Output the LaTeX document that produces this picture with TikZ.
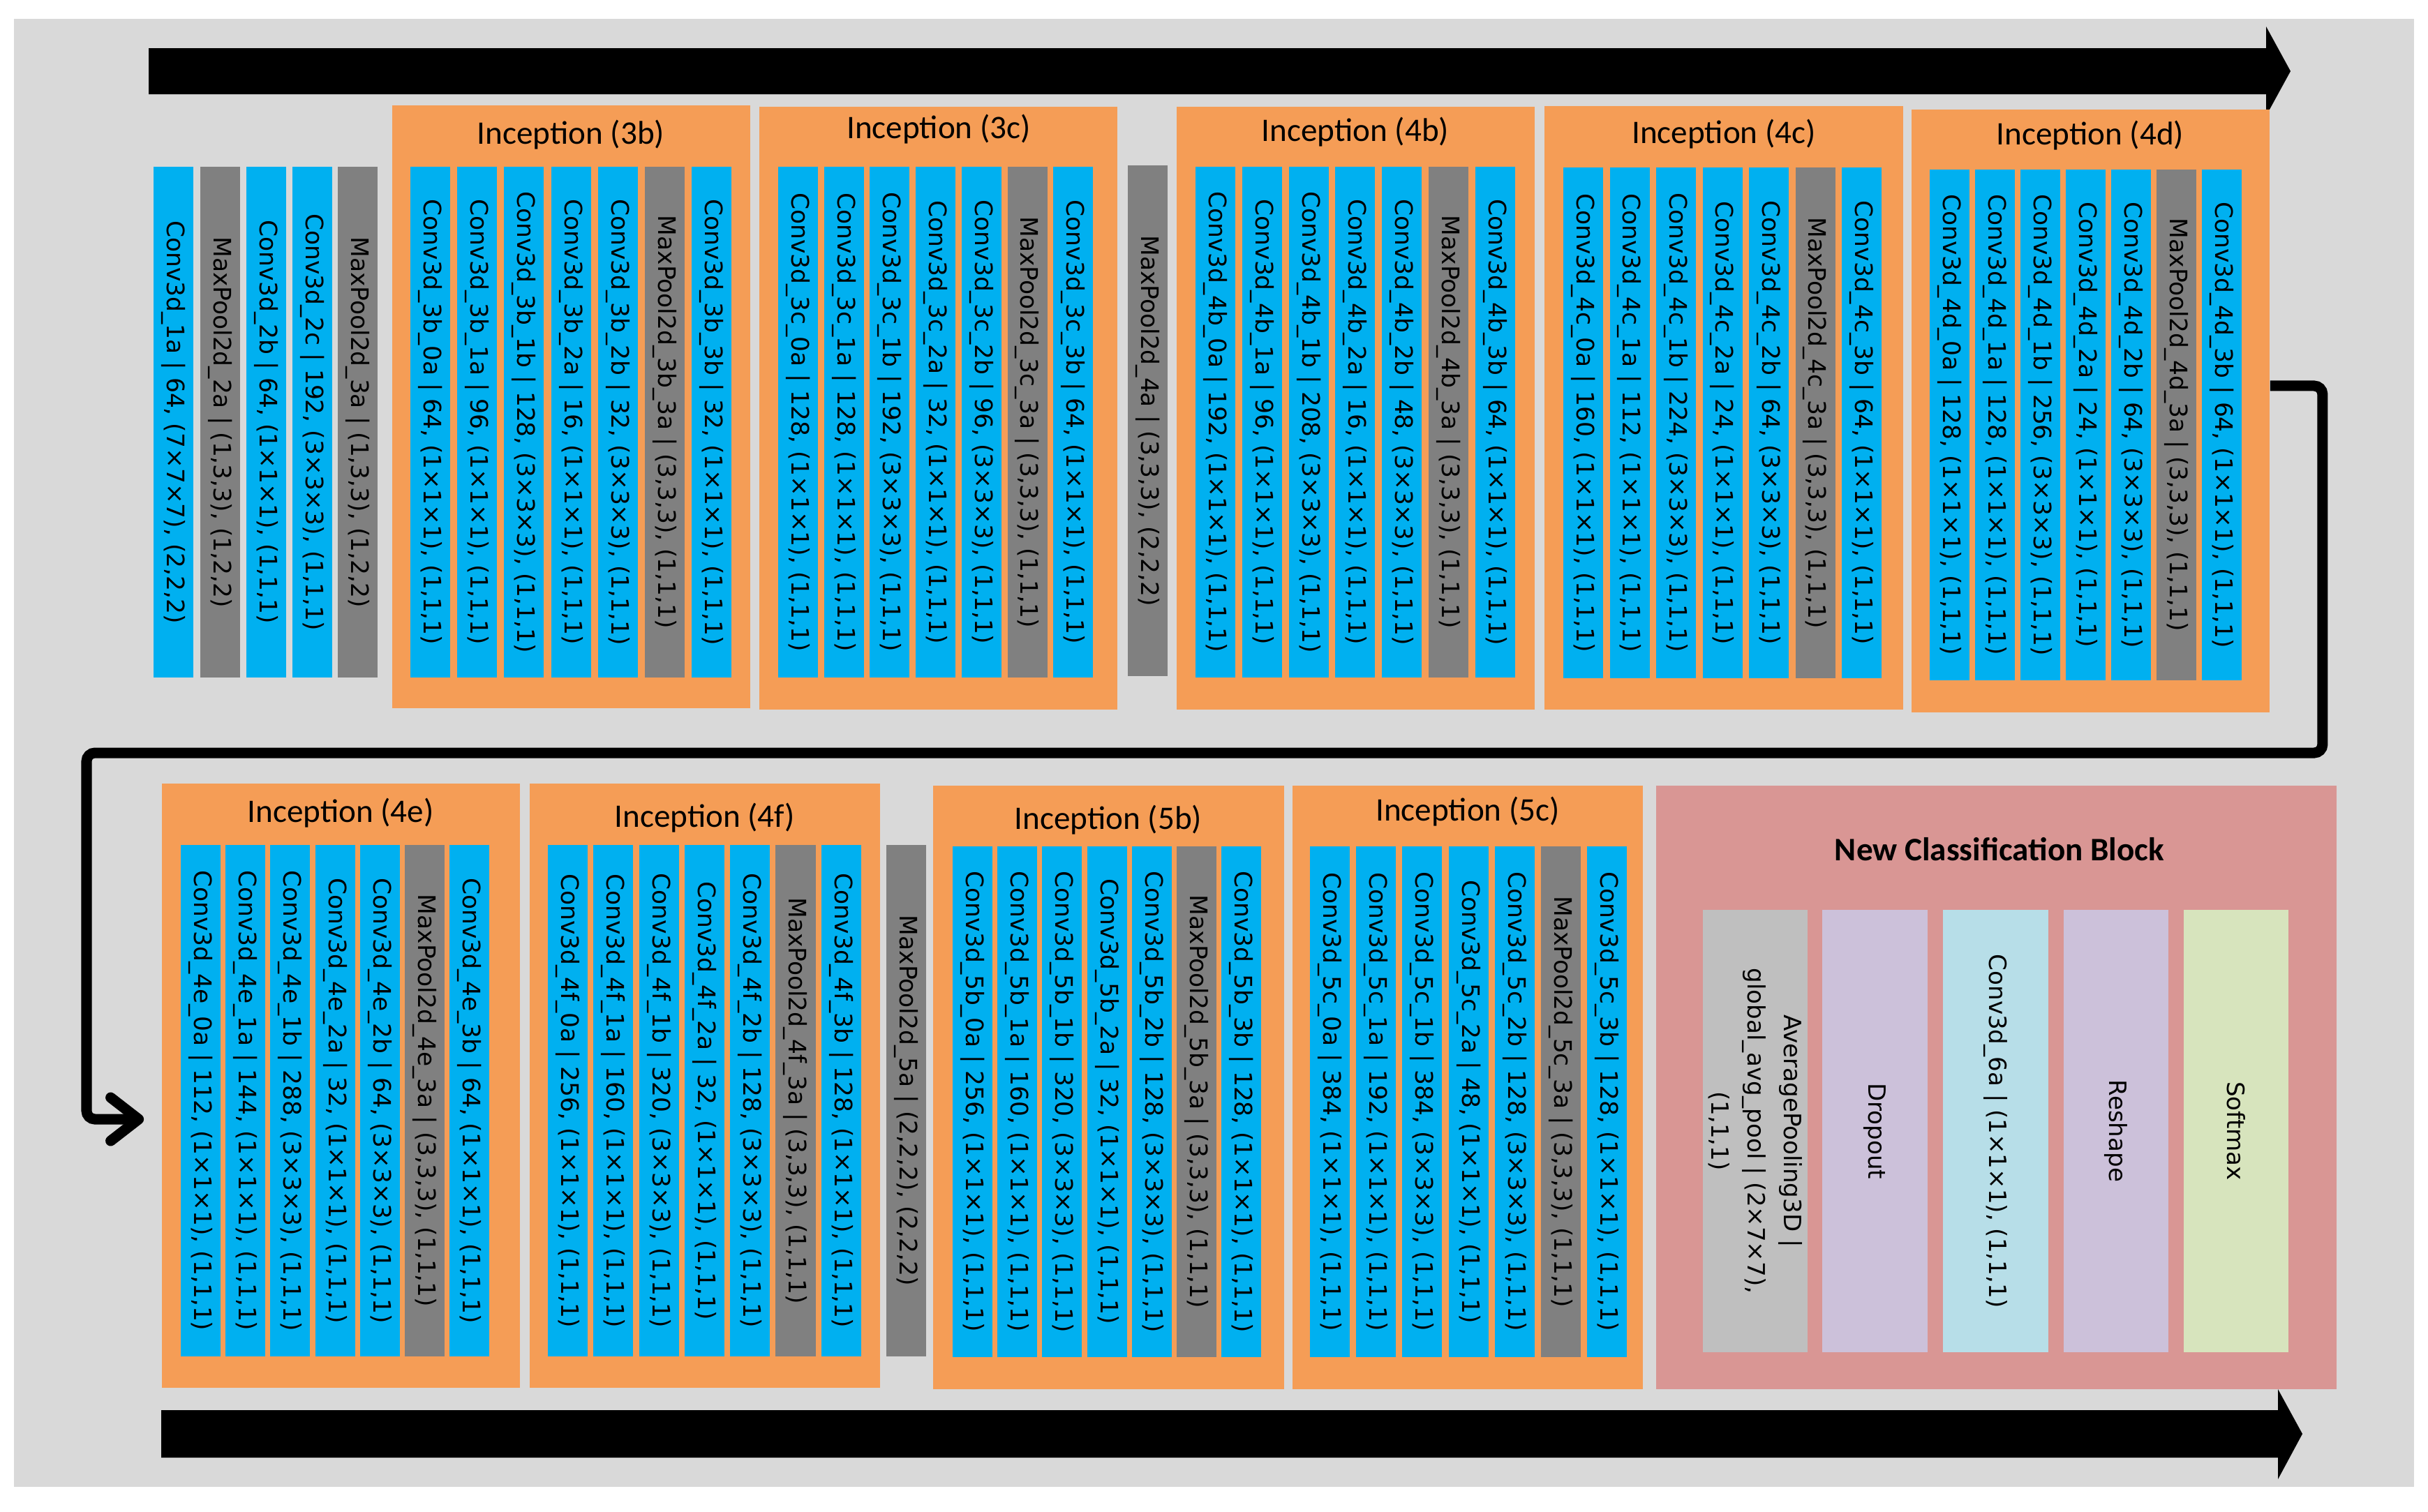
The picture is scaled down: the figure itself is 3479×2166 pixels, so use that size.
\documentclass[tikz,border=0pt]{standalone}
\usepackage{fontspec}
\usetikzlibrary{arrows.meta}
\newfontfamily\dejavu{DejaVu Sans}
\newfontfamily\carlito{Carlito}
\newcommand\lyrfont{\dejavu\fontsize{9.8pt}{11pt}\selectfont}
\newcommand\ttlfont{\carlito\fontsize{13.4pt}{16pt}\selectfont}
\newcommand\clsfont{\dejavu\fontsize{9.7pt}{14.8pt}\selectfont}
\definecolor{bggray}{HTML}{D9D9D9}
\definecolor{cblue}{HTML}{00B0F0}
\definecolor{cgray}{HTML}{808080}
\definecolor{corange}{HTML}{F59D56}
\definecolor{cpink}{HTML}{D99694}
\definecolor{cavg}{HTML}{BFBFBF}
\definecolor{clav}{HTML}{CCC1DA}
\definecolor{clblue}{HTML}{B7DEE8}
\definecolor{cgreen}{HTML}{D7E4BD}
\tikzset{
  lyr/.style={rotate=-90, minimum width=7.32cm, minimum height=0.57cm, inner sep=0pt, font=\lyrfont, text=black},
  conv/.style={lyr, fill=cblue},
  pool/.style={lyr, fill=cgray},
  inc/.style={fill=corange, inner sep=0pt, minimum width=5.13cm, minimum height=8.64cm},
  ttl/.style={font=\ttlfont, inner sep=0pt, text=black},
  cls/.style={rotate=-90, minimum width=6.34cm, minimum height=1.5cm, inner sep=0pt, font=\clsfont, align=center, text=black},
  conn/.style={line width=0.15cm, rounded corners=0.12cm},
}
\newcommand{\incset}[4]{\def\ipre{#1}\def\ix{#2}\def\ip{#3}\def\iy{#4}}
\newcommand{\incrow}[6]{%
\node[conv] (\ipre-0a) at ({\ix+28.5},\iy) {Conv3d\_\ipre\_0a | #1, (1×1×1), (1,1,1)};
\node[conv] (\ipre-1a) at ({\ix+\ip+28.5},\iy) {Conv3d\_\ipre\_1a | #2, (1×1×1), (1,1,1)};
\node[conv] (\ipre-1b) at ({\ix+2*\ip+28.5},\iy) {Conv3d\_\ipre\_1b | #3, (3×3×3), (1,1,1)};
\node[conv] (\ipre-2a) at ({\ix+3*\ip+28.5},\iy) {Conv3d\_\ipre\_2a | #4, (1×1×1), (1,1,1)};
\node[conv] (\ipre-2b) at ({\ix+4*\ip+28.5},\iy) {Conv3d\_\ipre\_2b | #5, (3×3×3), (1,1,1)};
\node[pool] (\ipre-3a) at ({\ix+5*\ip+28.5},\iy) {MaxPool2d\_\ipre\_3a | (3,3,3), (1,1,1)};
\node[conv] (\ipre-3b) at ({\ix+6*\ip+28.5},\iy) {Conv3d\_\ipre\_3b | #6, (1×1×1), (1,1,1)};
}
\begin{document}
\begin{tikzpicture}[x=0.01cm,y=-0.01cm]
\useasboundingbox (0,0) rectangle (3479,2166);
\fill[bggray] (20,27) rectangle (3459,2131);
% big flow arrows
\fill[black] (213,69) -- (3247,69) -- (3247,38) -- (3282,102) -- (3247,166) -- (3247,135) -- (213,135) -- cycle;
\fill[black] (231,2021) -- (3264,2021) -- (3264,1991) -- (3299,2055) -- (3264,2120) -- (3264,2089) -- (231,2089) -- cycle;

% stem
\node[conv] (s1a) at (248.5,605) {Conv3d\_1a | 64, (7×7×7), (2,2,2)};
\node[pool] (s2a) at (315.5,605) {MaxPool2d\_2a | (1,3,3), (1,2,2)};
\node[conv] (s2b) at (381.5,605) {Conv3d\_2b | 64, (1×1×1), (1,1,1)};
\node[conv] (s2c) at (447.5,605) {Conv3d\_2c | 192, (3×3×3), (1,1,1)};
\node[pool] (s3a) at (512.5,605) {MaxPool2d\_3a | (1,3,3), (1,2,2)};

% row 1 inception boxes
\node[inc] (i3b) at (818.5,583) {};
\node[inc] (i3c) at (1344.5,585) {};
\node[inc] (i4b) at (1942.5,585) {};
\node[inc] (i4c) at (2470,584.5) {};
\node[inc] (i4d) at (2995.5,589) {};
\node[ttl] (t3b) at (818,193) {Inception (3b)};
\node[ttl] (t3c) at (1345,185) {Inception (3c)};
\node[ttl] (t4b) at (1942,189) {Inception (4b)};
\node[ttl] (t4c) at (2470,192) {Inception (4c)};
\node[ttl] (t4d) at (2995,194) {Inception (4d)};

\incset{3b}{588}{67.2}{605}\incrow{64}{96}{128}{16}{32}{32}
\incset{3c}{1115}{65.7}{605}\incrow{128}{128}{192}{32}{96}{64}
\node[pool] (s4a) at (1644.5,603) {MaxPool2d\_4a | (3,3,3), (2,2,2)};
\incset{4b}{1713}{66.8}{605}\incrow{192}{96}{208}{16}{48}{64}
\incset{4c}{2240}{66.5}{606}\incrow{160}{112}{224}{24}{64}{64}
\incset{4d}{2765}{65}{609}\incrow{128}{128}{256}{24}{64}{64}

% row 2 inception boxes
\node[inc, minimum height=8.66cm] (i4e) at (488.5,1556) {};
\node[inc, minimum width=5.02cm, minimum height=8.66cm] (i4f) at (1010,1556) {};
\node[inc, minimum width=5.03cm, minimum height=8.65cm] (i5b) at (1588.5,1558.5) {};
\node[inc, minimum width=5.02cm, minimum height=8.65cm] (i5c) at (2103,1558.5) {};
\node[ttl] (t4e) at (488,1165) {Inception (4e)};
\node[ttl] (t4f) at (1010,1172) {Inception (4f)};
\node[ttl] (t5b) at (1588,1175) {Inception (5b)};
\node[ttl] (t5c) at (2103,1163) {Inception (5c)};

\incset{4e}{259}{64.2}{1577.5}\incrow{112}{144}{288}{32}{64}{64}
\incset{4f}{785}{65.3}{1577.5}\incrow{256}{160}{320}{32}{128}{128}
\node[pool] (s5a) at (1298.5,1577.5) {MaxPool2d\_5a | (2,2,2), (2,2,2)};
\incset{5b}{1365}{64.2}{1579}\incrow{256}{160}{320}{32}{128}{128}
\incset{5c}{1877}{66.2}{1579}\incrow{384}{192}{384}{48}{128}{128}

% new classification block
\node[fill=cpink, inner sep=0pt, minimum width=9.75cm, minimum height=8.65cm] (ncb) at (2860.5,1558.5) {};
\node[font=\carlito\bfseries\fontsize{13.4pt}{16pt}\selectfont, inner sep=0pt] (ncbt) at (2865,1217) {New Classification Block};
\node[cls, fill=cavg] (avg) at (2515,1621) {AveragePooling3D |\\ global\_avg\_pool | (2×7×7),\\ (1,1,1)};
\node[cls, fill=clav] (drop) at (2686.5,1621) {Dropout};
\node[cls, fill=clblue] (c6a) at (2859.5,1621) {Conv3d\_6a | (1×1×1), (1,1,1)};
\node[cls, fill=clav] (resh) at (3032,1621) {Reshape};
\node[cls, fill=cgreen] (soft) at (3204,1621) {Softmax};

% connector from row 1 to row 2
\coordinate (ctip) at ([xshift=-0.25cm,yshift=-0.48cm]i4e.west);
\draw[conn, -{Straight Barb[length=0.4cm,width=0.62cm,round]}] ([yshift=0.36cm]i4d.east) -- ++(75,0) |- (124,1079) |- (ctip);
\end{tikzpicture}
\end{document}
